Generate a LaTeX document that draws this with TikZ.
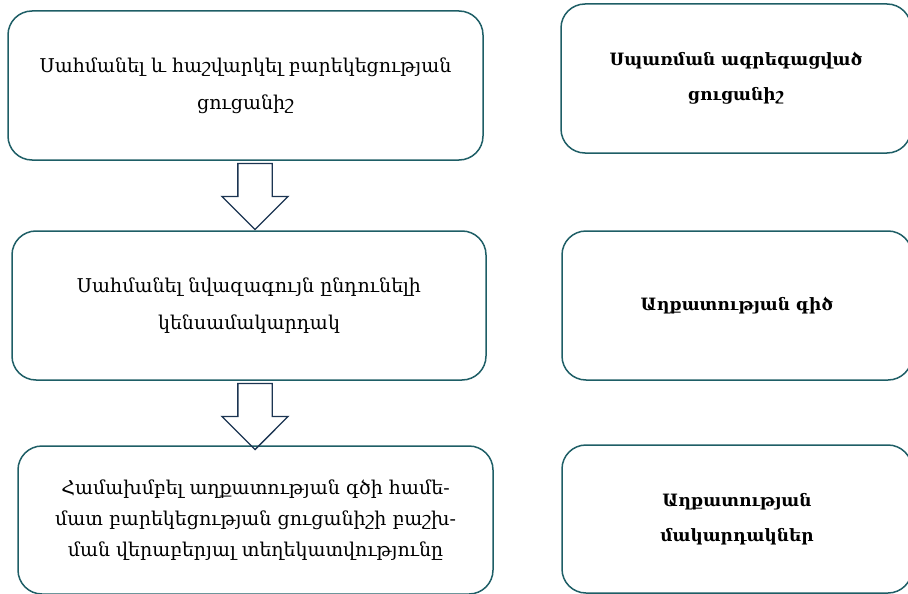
\documentclass[tikz,border=0pt]{standalone}
\usepackage{fontspec}
\setmainfont{DejaVu Serif}
\usetikzlibrary{shapes.arrows}

\definecolor{boxline}{HTML}{1E5E66}
\definecolor{arrowline}{HTML}{1C3552}

\tikzset{
    stepbox/.style={draw=boxline, line width=1.5pt, rounded corners=24pt,
        minimum width=475pt, minimum height=149pt, align=center,
        font=\fontsize{19}{37}\selectfont},
    resultbox/.style={stepbox, minimum width=350pt, font=\bfseries\fontsize{17}{35}\selectfont},
    downarrow/.style={draw=arrowline, line width=1.3pt, single arrow, shape border rotate=270,
        minimum height=66pt, minimum width=66pt, single arrow head extend=16pt,
        single arrow tip angle=90, inner sep=16.5pt}
}

\begin{document}
\begin{tikzpicture}[x=1pt, y=-1pt]
            \useasboundingbox (0,0) rectangle (908,594);

            % Left column: the steps
            \node[stepbox] (define) at (245.5, 85.5) {Սահմանել և հաշվարկել բարեկեցության\\ցուցանիշ};
            \node[stepbox, minimum width=474pt] (minimum) at (249, 305.5) {Սահմանել նվազագույն ընդունելի\\կենսամակարդակ};
            \node[stepbox, minimum height=148pt, font=\fontsize{19}{31}\selectfont] (combine) at (255.5, 520) {Համախմբել աղքատության գծի համե-\\մատ բարեկեցության ցուցանիշի բաշխ-\\ման վերաբերյալ տեղեկատվությունը};

            % Arrows between the steps
            \node[downarrow] (arrowone) at (255, 188) {};
            \node[downarrow] (arrowtwo) at (255, 408) {};

            % Right column: the results
            \node[resultbox] (aggregate) at (736, 78.5) {Սպառման ագրեգացված\\ցուցանիշ};
            \node[resultbox] (line) at (737, 305.5) {Աղքատության գիծ};
            \node[resultbox, minimum height=148pt] (levels) at (737, 519) {Աղքատության\\մակարդակներ};
        \end{tikzpicture}
\end{document}
